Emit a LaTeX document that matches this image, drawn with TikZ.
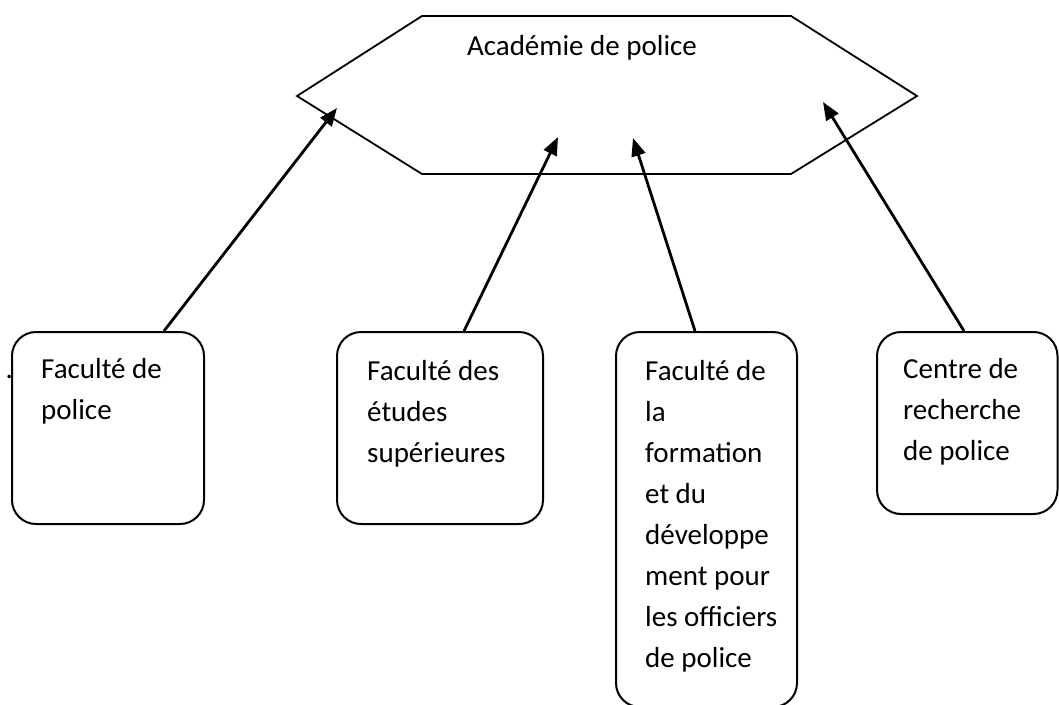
\documentclass[tikz,border=0pt]{standalone}
\usepackage{fontspec}
\setmainfont{Carlito}
\usetikzlibrary{arrows.meta,calc}
\tikzset{
  unitbox/.style={draw=black, line width=2pt, rounded corners=24pt, rectangle, inner sep=0pt},
  boxtext/.style={anchor=base west, inner sep=0pt, font={\fontsize{29}{41}\selectfont}},
  conn/.style={line width=2.8pt, -{Triangle[length=18pt,width=14pt]}},
  hexline/.style={draw=black, line width=1.8pt, line join=miter}
}
\begin{document}
\begin{tikzpicture}[x=1pt, y=-1pt]
\useasboundingbox (0,0) rectangle (1059,704);
% hexagon
\draw[hexline] (297,96) -- (422,16) -- (791,16) -- (917,96) -- (791,174) -- (422,174) -- cycle;
\node[boxtext, anchor=base] (acad) at (582,55) {Académie de police};
% boxes
\node[unitbox, minimum width=192pt, minimum height=192pt] (b1) at (108,428) {};
\node[unitbox, minimum width=206pt, minimum height=192pt] (b2) at (440,428) {};
\node[unitbox, minimum width=181pt, minimum height=375pt] (b3) at (706.5,519.5) {};
\node[unitbox, minimum width=180.5pt, minimum height=182pt] (b4) at (967.25,423) {};
% texts
\node[boxtext] (dot) at (5.5,378) {.};
\node[boxtext] (l1) at (41,378) {\vtop{\hbox{Faculté de}\hbox{police}}};
\node[boxtext] (l2) at (367,380) {\vtop{\hbox{Faculté des}\hbox{études}\hbox{supérieures}}};
\node[boxtext] (l3) at (645,380) {\vtop{\hbox{Faculté de}\hbox{la}\hbox{formation}\hbox{et du}\hbox{développe}\hbox{ment pour}\hbox{les officiers}\hbox{de police}}};
\node[boxtext] (l4) at (903,378) {\vtop{\hbox{Centre de}\hbox{recherche}\hbox{de police}}};
% arrow tips inside the hexagon
\coordinate (t1) at (337,108);
\coordinate (t2) at (558,137);
\coordinate (t3) at (633,138);
\coordinate (t4) at (823,102);
\draw[conn] ($(b1.north west)+(153,0)$) -- (t1);
\draw[conn] ($(b2.north west)+(128,0)$) -- (t2);
\draw[conn] ($(b3.north west)+(80,0)$) -- (t3);
\draw[conn] ($(b4.north west)+(88,0)$) -- (t4);
\end{tikzpicture}
\end{document}
